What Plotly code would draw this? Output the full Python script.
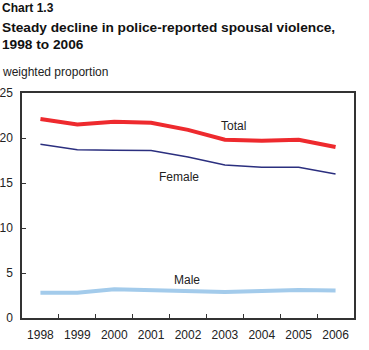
import plotly.graph_objects as go

years = ["1998", "1999", "2000", "2001", "2002", "2003", "2004", "2005", "2006"]
total = [22.1, 21.5, 21.8, 21.7, 20.9, 19.8, 19.7, 19.8, 19.0]
female = [19.3, 18.7, 18.65, 18.6, 17.9, 17.0, 16.75, 16.75, 16.0]
male = [2.8, 2.8, 3.2, 3.1, 2.9, 2.9, 3.0, 3.1, 3.05]

FONT = "Liberation Sans, Arial, Helvetica, sans-serif"

fig = go.Figure()
fig.add_trace(go.Scatter(x=years, y=male, mode="lines", line=dict(color="#a3cbeb", width=4), name="Male"))
fig.add_trace(go.Scatter(x=years, y=female, mode="lines", line=dict(color="#2b2f7f", width=1.5), name="Female"))
fig.add_trace(go.Scatter(x=years, y=total, mode="lines", line=dict(color="#ee2a2e", width=4), name="Total"))

W, H = 369, 350
L, R, T, B = 22, 15, 93, 32
pw, ph = W - L - R, H - T - B

def px(x):
    return (x - L) / pw

def py(y):
    return (H - B - y) / ph

annotations = [
    dict(text="<b>Chart 1.3</b>", x=px(0), y=py(7.5), font=dict(size=12, color="#111")),
    dict(text="<b>Steady decline in police-reported spousal violence,</b>", x=px(0), y=py(28), font=dict(size=13.7, color="#111")),
    dict(text="<b>1998 to 2006</b>", x=px(0), y=py(45), font=dict(size=13.7, color="#111")),
    dict(text="weighted proportion", x=px(0), y=py(72), font=dict(size=12, color="#222")),
]
for a in annotations:
    a.update(xref="paper", yref="paper", xanchor="left", yanchor="middle", showarrow=False)

labels = [("Total", 233, 126), ("Female", 179, 177), ("Male", 187, 280)]
for t, x, y in labels:
    annotations.append(dict(text=t, x=px(x), y=py(y), xref="paper", yref="paper",
                            xanchor="center", yanchor="middle", showarrow=False,
                            font=dict(size=12, color="#222")))

fig.update_layout(
    width=W, height=H,
    margin=dict(l=L, r=R, t=T, b=B, pad=0, autoexpand=False),
    paper_bgcolor="white", plot_bgcolor="white",
    showlegend=False,
    font=dict(family=FONT, size=12, color="#222"),
    annotations=annotations,
    xaxis=dict(type="category", range=[-0.5, 8.5], automargin=False, showgrid=False, zeroline=False,
               showline=True, mirror=True,
               linecolor="#333", linewidth=1.5, ticks="inside", tickson="boundaries",
               ticklen=4, tickcolor="#333", tickfont=dict(size=12, color="#222"),
               ticklabelstandoff=5, fixedrange=True),
    yaxis=dict(range=[0, 25], dtick=5, automargin=False, showgrid=False, zeroline=False,
               showline=True, mirror=True,
               linecolor="#333", linewidth=1.5, ticks="inside", ticklen=4, tickcolor="#333",
               tickfont=dict(size=12, color="#222"), ticklabelstandoff=5, fixedrange=True),
)

fig.write_html("out.html")
